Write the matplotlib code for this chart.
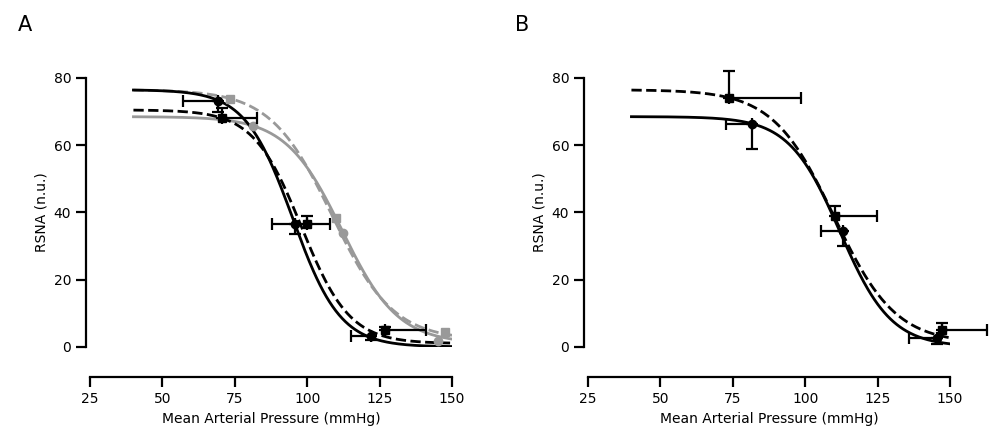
import numpy as np
import matplotlib.pyplot as plt

# fitted logistic parameters: top, bottom, midpoint, slope
fit_a = {
    "blk_solid": (76.5, 0.0, 95.0, 8.2),
    "blk_dash": (70.5, 1.0, 98.0, 8.3),
    "gry_solid": (68.5, 1.0, 112.0, 9.7),
    "gry_dash": (76.5, 2.0, 108.5, 10.6),
}
fit_b = {
    "blk_solid": (68.5, 0.0, 112.0, 8.8),
    "blk_dash": (76.5, 1.0, 110.0, 10.6),
}

# Panel A points
a_circ_x = [69.2, 95.8, 122.0]
a_circ_y = [73.2, 36.6, 3.3]
a_circ_xlo = [57.0, 88.0, 115.0]
a_circ_ylo = [70.0, 33.5, 2.0]
a_sq_x = [70.6, 100.0, 127.0]
a_sq_y = [68.0, 36.6, 5.0]
a_sq_xhi = [82.7, 107.9, 141.0]
a_sq_yhi = [71.0, 39.0, 6.0]
a_gsq_x = [73.3, 109.9, 147.6]
a_gsq_y = [73.8, 38.4, 4.5]
a_gci_x = [81.2, 112.4, 145.0]
a_gci_y = [65.8, 34.0, 1.8]

# Panel B points
b_sq_x = [73.7, 110.3, 147.2]
b_sq_y = [74.1, 39.0, 5.0]
b_sq_xhi = [98.5, 124.8, 162.8]
b_sq_yhi = [82.0, 42.0, 7.0]
b_ci_x = [81.5, 112.9, 145.5]
b_ci_y = [66.4, 34.5, 2.7]
b_ci_xlo = [72.5, 105.5, 136.0]
b_ci_ylo = [59.0, 30.0, 1.0]

GREY = "#999999"


def logistic(x, p):
    top, bot, mid, s = p
    return bot + (top - bot) / (1 + np.exp((x - mid) / s))


def errs(ax, x, y, xe, ye, color):
    # one-sided error bars (toward xe / ye)
    for xi, yi, xx, yy in zip(x, y, xe, ye):
        ax.errorbar(xi, yi,
                    xerr=[[max(xi - xx, 0)], [max(xx - xi, 0)]],
                    yerr=[[max(yi - yy, 0)], [max(yy - yi, 0)]],
                    fmt="none", ecolor=color, elinewidth=1.6, capsize=4,
                    capthick=1.6, clip_on=False)


def style(ax):
    ax.set_xlim(25, 150)
    ax.set_ylim(0, 80)
    for s in ["top", "right"]:
        ax.spines[s].set_visible(False)
    ax.spines["bottom"].set_position(("outward", 22))
    ax.spines["left"].set_position(("outward", 3))
    ax.spines["bottom"].set_linewidth(1.6)
    ax.spines["left"].set_linewidth(1.6)
    ax.set_xticks([25, 50, 75, 100, 125, 150])
    ax.set_yticks([0, 20, 40, 60, 80])
    ax.tick_params(width=1.6, length=7, labelsize=10)
    ax.set_xlabel("Mean Arterial Pressure (mmHg)", fontsize=10)
    ax.set_ylabel("RSNA (n.u.)", fontsize=10)


fig = plt.figure(figsize=(10, 4.43), dpi=100)
axA = fig.add_axes([0.09, 0.217, 0.362, 0.607])
axB = fig.add_axes([0.588, 0.217, 0.362, 0.607])

xs = np.linspace(40, 150, 300)
axA.plot(xs, logistic(xs, fit_a["gry_dash"]), "--", color=GREY, lw=2)
axA.plot(xs, logistic(xs, fit_a["gry_solid"]), "-", color=GREY, lw=2)
axA.plot(xs, logistic(xs, fit_a["blk_dash"]), "--", color="black", lw=2)
axA.plot(xs, logistic(xs, fit_a["blk_solid"]), "-", color="black", lw=2)
axA.plot(a_gsq_x, a_gsq_y, "s", color=GREY, ms=6, clip_on=False)
axA.plot(a_gci_x, a_gci_y, "o", color=GREY, ms=6, clip_on=False)
errs(axA, a_circ_x, a_circ_y, a_circ_xlo, a_circ_ylo, "black")
errs(axA, a_sq_x, a_sq_y, a_sq_xhi, a_sq_yhi, "black")
axA.plot(a_circ_x, a_circ_y, "o", color="black", ms=6, clip_on=False)
axA.plot(a_sq_x, a_sq_y, "s", color="black", ms=6, clip_on=False)
style(axA)

axB.plot(xs, logistic(xs, fit_b["blk_dash"]), "--", color="black", lw=2)
axB.plot(xs, logistic(xs, fit_b["blk_solid"]), "-", color="black", lw=2)
errs(axB, b_sq_x, b_sq_y, b_sq_xhi, b_sq_yhi, "black")
errs(axB, b_ci_x, b_ci_y, b_ci_xlo, b_ci_ylo, "black")
axB.plot(b_sq_x, b_sq_y, "s", color="black", ms=6, clip_on=False)
axB.plot(b_ci_x, b_ci_y, "o", color="black", ms=6, clip_on=False)
style(axB)

fig.text(0.018, 0.93, "A", fontsize=15)
fig.text(0.515, 0.93, "B", fontsize=15)

fig.savefig("out.png", dpi=100)
